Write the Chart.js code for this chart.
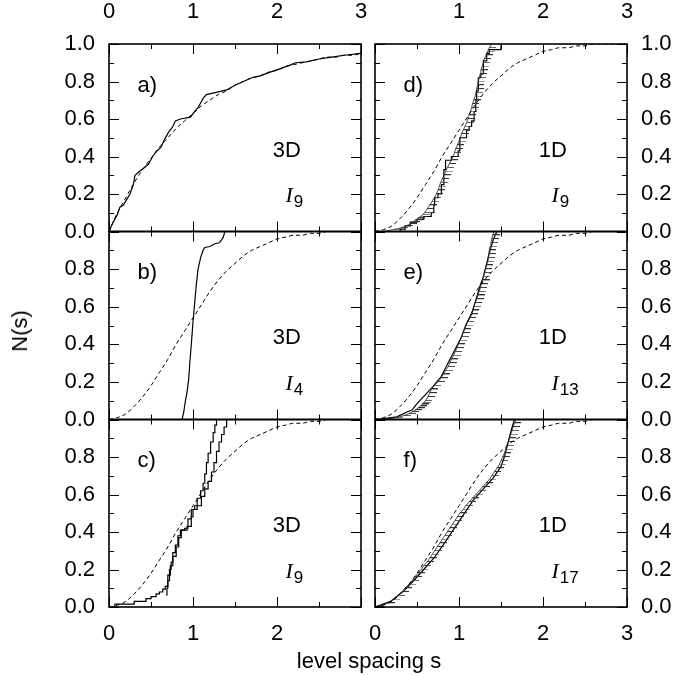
<!DOCTYPE html>
<html>
<head>
<meta charset="utf-8">
<script src="https://cdn.jsdelivr.net/npm/chart.js@4.4.1/dist/chart.umd.min.js"></script>
<style>
  body { margin: 0; background: #fff; }
  #wrap { position: relative; width: 691px; height: 675px; }
  #wrap canvas { position: absolute; left: 0; top: 0; }
  .axt { position: absolute; font-family: "Liberation Sans", Arial, sans-serif; font-size: 22px; color: #000; white-space: nowrap; }
</style>
</head>
<body>
<div id="wrap">
  <div class="axt" style="left:20px;top:331px;transform:translate(-50%,-50%) rotate(-90deg);">N(s)</div>
  <div class="axt" style="left:369px;top:661px;transform:translate(-50%,-50%);">level spacing s</div>
</div>
<script>
// --- datos ---
const sGrid   = [0,0.1,0.2,0.3,0.4,0.5,0.6,0.7,0.8,0.9,1.0,1.1,1.2,1.3,1.4,1.5,1.6,1.7,1.8,1.9,2.0,2.1,2.2,2.3,2.4,2.5,2.6,2.7,2.8,2.9,3.0];
const poissonN = [0,0.10,0.18,0.26,0.33,0.39,0.45,0.50,0.55,0.59,0.63,0.67,0.70,0.73,0.75,0.78,0.80,0.82,0.83,0.85,0.86,0.88,0.89,0.90,0.91,0.92,0.93,0.93,0.94,0.94,0.95];
const wignerN  = [0,0.01,0.03,0.07,0.12,0.18,0.25,0.32,0.40,0.47,0.54,0.61,0.68,0.74,0.79,0.83,0.87,0.90,0.92,0.94,0.96,0.97,0.98,0.98,0.99,0.99,1,1,1,1,1];

const xTicks = [0,0.5,1,1.5,2,2.5,3];
const yTicks = [0,0.1,0.2,0.3,0.4,0.5,0.6,0.7,0.8,0.9,1.0];
const yLabelsTop = ['0.0','0.2','0.4','0.6','0.8','1.0'];
const yLabelsLow = ['0.0','0.2','0.4','0.6','0.8'];

const solidA = [[0,0],[0.05,0.05],[0.1,0.09],[0.13,0.13],[0.17,0.14],[0.21,0.17],[0.25,0.2],[0.29,0.25],[0.31,0.3],[0.36,0.32],[0.42,0.34],[0.47,0.36],[0.52,0.4],[0.57,0.43],[0.62,0.45],[0.66,0.49],[0.71,0.53],[0.76,0.56],[0.79,0.59],[0.85,0.6],[0.97,0.61],[1.02,0.64],[1.06,0.66],[1.12,0.71],[1.16,0.73],[1.3,0.745],[1.4,0.755],[1.5,0.78],[1.6,0.8],[1.7,0.82],[1.8,0.83],[1.92,0.85],[2.05,0.87],[2.17,0.89],[2.22,0.9],[2.35,0.905],[2.5,0.92],[2.65,0.93],[2.8,0.94],[3,0.95]];
const solidB = [[0.87,0],[0.89,0.04],[0.91,0.1],[0.93,0.15],[0.95,0.22],[0.96,0.29],[0.98,0.4],[1.0,0.52],[1.02,0.62],[1.04,0.72],[1.06,0.8],[1.09,0.86],[1.12,0.9],[1.14,0.915],[1.2,0.92],[1.26,0.935],[1.31,0.94],[1.34,0.955],[1.36,0.97],[1.38,1.0]];
const stepC1 = [[0.06,0.0],[0.07,0.015],[0.3,0.03],[0.44,0.045],[0.5,0.055],[0.56,0.07],[0.6,0.08],[0.64,0.095],[0.67,0.11],[0.7,0.17],[0.73,0.22],[0.76,0.27],[0.8,0.32],[0.83,0.37],[0.86,0.41],[0.93,0.43],[0.98,0.48],[1.0,0.52],[1.05,0.54],[1.1,0.59],[1.14,0.63],[1.18,0.67],[1.22,0.72],[1.25,0.77],[1.28,0.83],[1.31,0.88],[1.34,0.92],[1.37,0.96],[1.4,1.0],[1.5,1.0]];
const stepC2 = [[0.69,0.06],[0.69,0.1],[0.7,0.14],[0.72,0.2],[0.74,0.24],[0.76,0.29],[0.79,0.33],[0.82,0.38],[0.85,0.41],[0.9,0.42],[0.94,0.47],[0.98,0.52],[1.02,0.54],[1.05,0.58],[1.09,0.62],[1.12,0.66],[1.14,0.71],[1.16,0.77],[1.18,0.82],[1.21,0.88],[1.24,0.93],[1.26,0.97],[1.28,1.0]];
const stepD = [[0.05,0],[0.3,0.013],[0.36,0.03],[0.42,0.05],[0.5,0.065],[0.58,0.08],[0.67,0.1],[0.7,0.14],[0.71,0.18],[0.75,0.2],[0.79,0.25],[0.82,0.33],[0.84,0.38],[0.91,0.4],[0.99,0.43],[1.01,0.5],[1.09,0.54],[1.12,0.56],[1.15,0.59],[1.18,0.64],[1.2,0.7],[1.21,0.75],[1.23,0.82],[1.26,0.84],[1.29,0.91],[1.33,0.95],[1.36,0.97],[1.5,1.0]];
const hatchD = [[0.10,0],[0.22,0.01],[0.31,0.02],[0.37,0.03],[0.42,0.04],[0.45,0.05],[0.48,0.06],[0.51,0.07],[0.54,0.08],[0.57,0.09],[0.59,0.10],[0.62,0.12],[0.65,0.14],[0.68,0.16],[0.705,0.18],[0.73,0.20],[0.75,0.22],[0.765,0.24],[0.78,0.26],[0.80,0.28],[0.82,0.30],[0.84,0.32],[0.86,0.34],[0.885,0.36],[0.905,0.38],[0.93,0.40],[0.945,0.42],[0.96,0.44],[0.98,0.46],[1.0,0.48],[1.015,0.50],[1.03,0.52],[1.05,0.54],[1.07,0.56],[1.09,0.58],[1.105,0.60],[1.12,0.62],[1.135,0.64],[1.15,0.66],[1.16,0.68],[1.175,0.70],[1.19,0.72],[1.20,0.74],[1.21,0.76],[1.22,0.78],[1.23,0.80],[1.24,0.82],[1.25,0.84],[1.26,0.86],[1.275,0.88],[1.29,0.90],[1.30,0.92],[1.32,0.94],[1.34,0.96],[1.36,0.98],[1.39,1.0]];
const solidE = [[0.0,0],[0.06,0.002],[0.26,0.014],[0.38,0.04],[0.44,0.05],[0.5,0.085],[0.575,0.12],[0.69,0.175],[0.79,0.23],[0.87,0.3],[0.95,0.37],[1.03,0.44],[1.09,0.51],[1.15,0.56],[1.21,0.65],[1.25,0.71],[1.29,0.76],[1.33,0.83],[1.37,0.9],[1.41,0.96],[1.45,1.0]];
const hatchE = [[0.10,0],[0.25,0.01],[0.34,0.02],[0.40,0.03],[0.44,0.04],[0.48,0.05],[0.51,0.06],[0.54,0.07],[0.56,0.08],[0.58,0.09],[0.60,0.10],[0.63,0.12],[0.65,0.14],[0.67,0.16],[0.70,0.18],[0.75,0.20],[0.785,0.22],[0.81,0.24],[0.84,0.26],[0.87,0.28],[0.89,0.30],[0.91,0.32],[0.935,0.34],[0.955,0.36],[0.975,0.38],[0.99,0.40],[1.01,0.42],[1.03,0.44],[1.045,0.46],[1.06,0.48],[1.08,0.50],[1.10,0.52],[1.12,0.54],[1.14,0.56],[1.16,0.58],[1.175,0.60],[1.19,0.62],[1.21,0.64],[1.225,0.66],[1.24,0.68],[1.255,0.70],[1.265,0.72],[1.28,0.74],[1.29,0.76],[1.30,0.78],[1.315,0.80],[1.325,0.82],[1.335,0.84],[1.345,0.86],[1.355,0.88],[1.36,0.90],[1.37,0.92],[1.38,0.94],[1.39,0.96],[1.40,0.98],[1.42,1.0]];
const solidF = [[0,0],[0.03,0.005],[0.185,0.03],[0.34,0.085],[0.46,0.14],[0.58,0.2],[0.7,0.26],[0.81,0.33],[0.93,0.41],[1.05,0.49],[1.17,0.57],[1.29,0.63],[1.41,0.69],[1.5,0.75],[1.54,0.8],[1.58,0.87],[1.62,0.94],[1.66,1.0]];
const hatchF = [[0.02,0],[0.15,0.02],[0.22,0.04],[0.27,0.06],[0.32,0.08],[0.36,0.10],[0.40,0.12],[0.44,0.14],[0.48,0.16],[0.51,0.18],[0.55,0.20],[0.58,0.22],[0.62,0.24],[0.65,0.26],[0.68,0.28],[0.71,0.30],[0.74,0.32],[0.77,0.34],[0.80,0.36],[0.83,0.38],[0.86,0.40],[0.89,0.42],[0.92,0.44],[0.95,0.46],[0.98,0.48],[1.01,0.50],[1.05,0.52],[1.08,0.54],[1.12,0.56],[1.16,0.58],[1.20,0.60],[1.24,0.62],[1.28,0.64],[1.32,0.66],[1.36,0.68],[1.39,0.70],[1.42,0.72],[1.45,0.74],[1.48,0.76],[1.50,0.78],[1.52,0.80],[1.54,0.82],[1.555,0.84],[1.57,0.86],[1.585,0.88],[1.60,0.90],[1.615,0.92],[1.63,0.94],[1.645,0.96],[1.66,0.98],[1.68,1.0]];

// --- panel layout ---
const FONT = '"Liberation Sans", Arial, sans-serif';
const colL = [109, 361], colR = [375, 627];
const rows = [[44, 231.5], [231.5, 419.5], [419.5, 607]];

const panels = [
  { tag: 'a)', dim: '3D', sub: '9',  col: colL, row: rows[0], dashed: poissonN, lines: [solidA], stepped: false, xTop: ['0','1','2','3'], yLab: yLabelsTop, side: 'left' },
  { tag: 'b)', dim: '3D', sub: '4',  col: colL, row: rows[1], dashed: wignerN, lines: [solidB], stepped: false, yLab: yLabelsLow, side: 'left' },
  { tag: 'c)', dim: '3D', sub: '9',  col: colL, row: rows[2], dashed: wignerN, lines: [stepC1, stepC2], stepped: true, xBot: ['0','1','2'], yLab: yLabelsLow, side: 'left' },
  { tag: 'd)', dim: '1D', sub: '9',  col: colR, row: rows[0], dashed: wignerN, lines: [stepD], stepped: true, hatch: hatchD, xTop: [null,'1','2','3'], yLab: yLabelsTop, side: 'right' },
  { tag: 'e)', dim: '1D', sub: '13', col: colR, row: rows[1], dashed: wignerN, lines: [solidE], stepped: false, hatch: hatchE, yLab: yLabelsLow, side: 'right' },
  { tag: 'f)', dim: '1D', sub: '17', col: colR, row: rows[2], dashed: wignerN, lines: [solidF], stepped: false, hatch: hatchF, xBot: ['0','1','2','3'], yLab: yLabelsLow, side: 'right' }
];

// short horizontal "tooth" used for the hatched curves
const tooth = document.createElement('canvas');
tooth.width = 14; tooth.height = 2;
const tctx = tooth.getContext('2d');
tctx.fillStyle = '#333';
tctx.fillRect(7, 0, 7, 1);

function framePlugin(p) {
  return {
    id: 'frame',
    afterDraw(chart) {
      const { ctx, chartArea: a, scales: { x, y } } = chart;
      ctx.save();
      ctx.strokeStyle = '#000';
      ctx.lineWidth = 1;
      ctx.beginPath();
      xTicks.forEach(t => {
        const px = Math.round(x.getPixelForValue(t)) + 0.5;
        const len = Number.isInteger(t) ? 10 : 5;
        ctx.moveTo(px, a.top); ctx.lineTo(px, a.top + len);
        ctx.moveTo(px, a.bottom); ctx.lineTo(px, a.bottom - len);
      });
      yTicks.forEach((t, i) => {
        const py = Math.round(y.getPixelForValue(t)) + 0.5;
        const len = i % 2 === 0 ? 10 : 5;
        ctx.moveTo(a.left, py); ctx.lineTo(a.left + len, py);
        ctx.moveTo(a.right, py); ctx.lineTo(a.right - len, py);
      });
      ctx.stroke();
      ctx.lineWidth = 1.6;
      ctx.strokeRect(a.left, a.top, a.right - a.left, a.bottom - a.top);

      // tick labels
      ctx.fillStyle = '#000';
      ctx.font = '22px ' + FONT;
      ctx.textAlign = 'center';
      ctx.textBaseline = 'middle';
      if (p.xTop) p.xTop.forEach((s, i) => { if (s) ctx.fillText(s, x.getPixelForValue(i), a.top - 32); });
      if (p.xBot) p.xBot.forEach((s, i) => { if (s) ctx.fillText(s, x.getPixelForValue(i), a.bottom + 27); });
      p.yLab.forEach((s, i) => {
        const py = y.getPixelForValue(i * 0.2);
        if (p.side === 'left') { ctx.textAlign = 'right'; ctx.fillText(s, a.left - 14, py); }
        else { ctx.textAlign = 'left'; ctx.fillText(s, a.right + 14, py); }
      });

      // panel annotations
      ctx.textBaseline = 'alphabetic';
      ctx.textAlign = 'left';
      ctx.font = '22px ' + FONT;
      ctx.fillText(p.tag, x.getPixelForValue(0.34), y.getPixelForValue(0.745));
      ctx.fillText(p.dim, x.getPixelForValue(1.95), y.getPixelForValue(0.40));
      const ix = x.getPixelForValue(2.1), iy = y.getPixelForValue(0.155);
      ctx.font = 'italic 22px "Liberation Serif", "Times New Roman", serif';
      ctx.fillText('I', ix, iy);
      const w = ctx.measureText('I').width;
      ctx.font = '17px ' + FONT;
      ctx.fillText(p.sub, ix + w + 1, iy + 5);
      ctx.restore();
    }
  };
}

const wrap = document.getElementById('wrap');
panels.forEach(p => {
  const cv = document.createElement('canvas');
  cv.width = 691; cv.height = 675;
  wrap.insertBefore(cv, wrap.firstChild);

  const datasets = [{
    data: sGrid.map((s, i) => ({ x: s, y: p.dashed[i] })),
    borderColor: '#000', borderWidth: 1, borderDash: [4, 3],
    pointRadius: 0, cubicInterpolationMode: 'monotone'
  }];
  if (p.hatch) {
    datasets.push({
      data: p.hatch.map(q => ({ x: q[0], y: q[1] })),
      borderColor: '#222', borderWidth: 0.8, showLine: true,
      pointStyle: tooth, pointRadius: 3
    });
  }
  p.lines.forEach(d => datasets.push({
    data: d.map(q => ({ x: q[0], y: q[1] })),
    borderColor: '#000', borderWidth: 1.2, pointRadius: 0,
    stepped: p.stepped ? 'before' : false
  }));

  new Chart(cv, {
    type: 'line',
    data: { datasets },
    options: {
      responsive: false,
      animation: false,
      devicePixelRatio: 1,
      events: [],
      layout: { padding: { left: p.col[0], right: 691 - p.col[1], top: p.row[0], bottom: 675 - p.row[1] } },
      scales: {
        x: { type: 'linear', min: 0, max: 3, display: false },
        y: { type: 'linear', min: 0, max: 1, display: false }
      },
      plugins: { legend: { display: false }, tooltip: { enabled: false } }
    },
    plugins: [framePlugin(p)]
  });
});
</script>
</body>
</html>
